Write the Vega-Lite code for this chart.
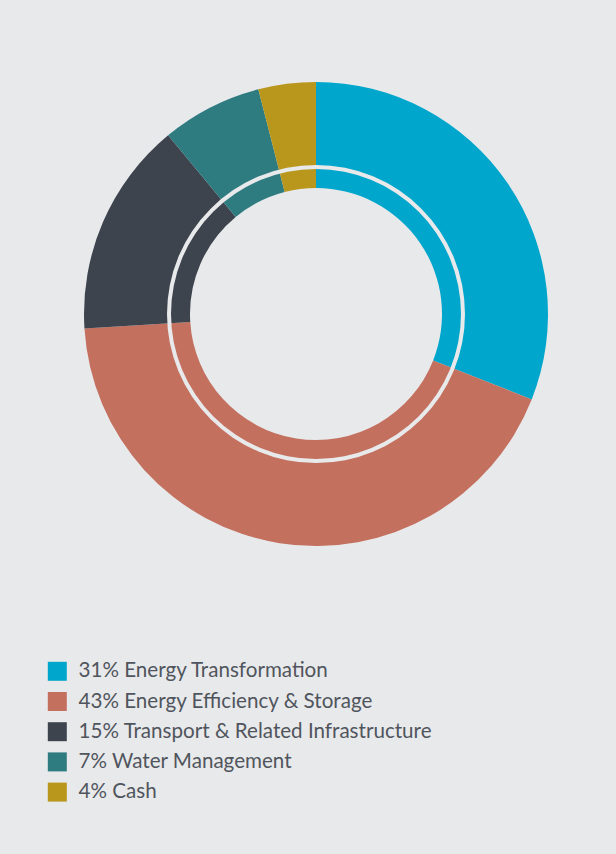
{
  "$schema": "https://vega.github.io/schema/vega-lite/v6.json",
  "width": 600,
  "height": 600,
  "autosize": {"type": "none"},
  "padding": {"left": 16, "top": 14, "right": 0, "bottom": 240},
  "background": "#e8e9eb",
  "config": {"view": {"stroke": null}},
  "datasets": {
    "alloc": [
      {"label": "31% Energy Transformation", "share": 31, "o": 1},
      {"label": "43% Energy Efficiency & Storage", "share": 43, "o": 2},
      {"label": "15% Transport & Related Infrastructure", "share": 15, "o": 3},
      {"label": "7% Water Management", "share": 7, "o": 4},
      {"label": "4% Cash", "share": 4, "o": 5}
    ],
    "ring": [{"share": 100}]
  },
  "layer": [
    {
      "data": {"name": "alloc"},
      "mark": {"type": "arc", "innerRadius": 126, "outerRadius": 232},
      "encoding": {
        "theta": {"field": "share", "type": "quantitative", "stack": true},
        "order": {"field": "o", "type": "quantitative"},
        "color": {
          "field": "label",
          "type": "nominal",
          "scale": {
            "domain": ["31% Energy Transformation", "43% Energy Efficiency & Storage", "15% Transport & Related Infrastructure", "7% Water Management", "4% Cash"],
            "range": ["#00a6cb", "#c4705f", "#3d444e", "#2e7b80", "#b9961c"]
          },
          "legend": {
            "title": null,
            "orient": "none",
            "legendX": 31,
            "legendY": 647,
            "padding": 0,
            "symbolType": "square",
            "symbolSize": 361,
            "symbolStrokeWidth": 0,
            "symbolOpacity": 1,
            "labelFont": "Lato",
            "labelFontSize": 20.6,
            "labelFontWeight": 400,
            "labelColor": "#50555d",
            "labelOffset": 11,
            "labelLimit": 500,
            "rowPadding": 9.2
          }
        }
      }
    },
    {
      "data": {"name": "ring"},
      "mark": {"type": "arc", "innerRadius": 145, "outerRadius": 149, "color": "#e8e9eb"},
      "encoding": {
        "theta": {"field": "share", "type": "quantitative"}
      }
    }
  ]
}
